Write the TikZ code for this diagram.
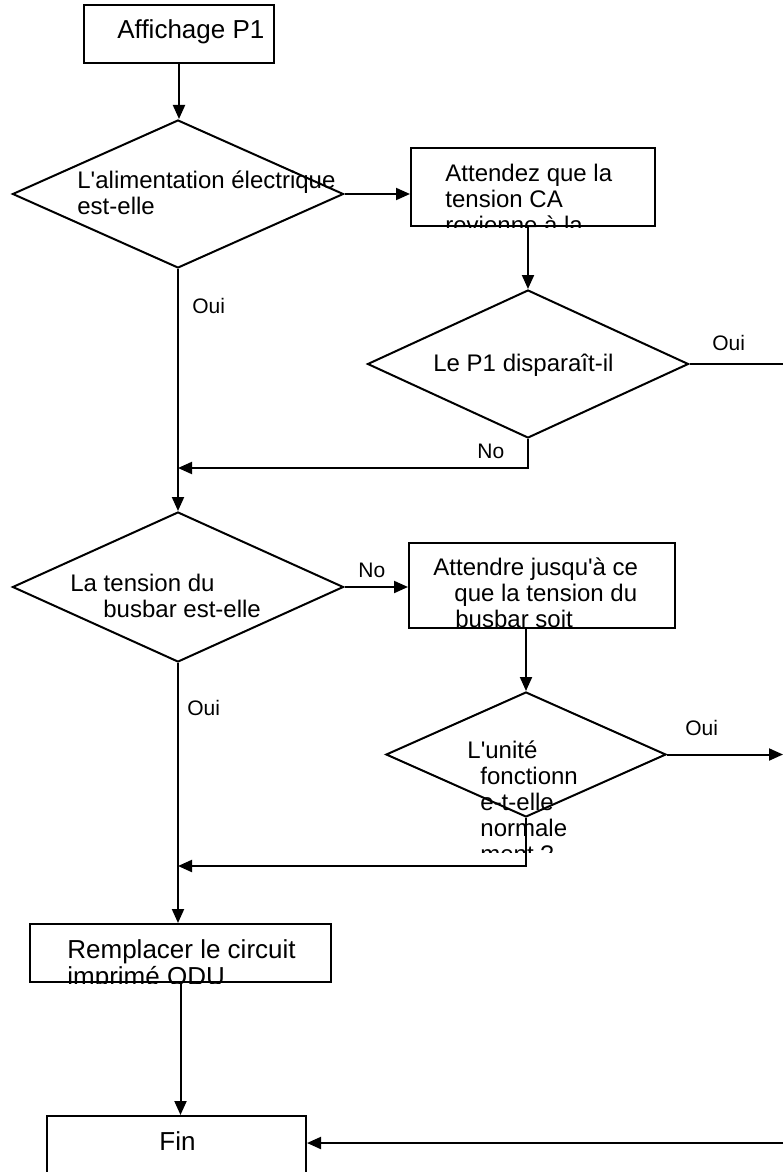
\documentclass[tikz,border=0pt]{standalone}
\usepackage{fontspec}
\setmainfont{Liberation Sans}[Ligatures=TeXOff]
\usetikzlibrary{arrows.meta,positioning,shapes.geometric}
\tikzset{
  stepbox/.style={draw,line width=1pt,inner sep=0pt},
  test/.style={diamond,draw,line width=1pt,inner sep=0pt},
  txt/.style={anchor=north west,inner sep=0pt,align=left,
    font=\fontsize{12}{13}\selectfont},
  bigtxt/.style={anchor=base west,inner sep=0pt,align=left,
    font=\fontsize{13}{13.5}\selectfont},
  lbl/.style={anchor=base west,inner sep=0pt,font=\fontsize{10.5}{12}\selectfont},
  arrow/.style={-{Triangle[length=7pt,width=6pt]},line width=1pt},
  link/.style={line width=1pt}
}

\begin{document}
\begin{tikzpicture}[x=0.5pt,y=-0.5pt]
  \useasboundingbox (0,0) rectangle (783,1172);
  % boxes
  \node[stepbox,minimum width=95pt,minimum height=29pt] (start) at (179,34) {};
  \node[stepbox,minimum width=122pt,minimum height=39pt] (wait1) at (533,187) {};
  \node[stepbox,minimum width=133pt,minimum height=42.5pt] (wait2) at (542,585.5) {};
  \node[stepbox,minimum width=150.5pt,minimum height=29pt] (repl) at (180.5,953) {};
  \node[stepbox,minimum width=129.5pt,minimum height=37pt] (fin) at (176.5,1153) {};
  % tests
  \node[test,minimum width=165.5pt,minimum height=74pt] (d1) at (178,194) {};
  \node[test,minimum width=160.5pt,minimum height=74pt] (d2) at (528,364) {};
  \node[test,minimum width=165.5pt,minimum height=75pt] (d3) at (178,587) {};
  \node[test,minimum width=140pt,minimum height=62.5pt] (d4) at (526,754.5) {};

  % texts
  \node[bigtxt] (starttext) at (117,39) {Affichage P1};
  \node[txt] (d1text) at (77,170) {L'alimentation électrique\\est-elle};
  \begin{scope}
    \clip (wait1.south west) rectangle (wait1.north east);
    \node[txt] (wait1text) at (445,164) {Attendez que la\\tension CA\\revienne à la};
  \end{scope}
  \node[anchor=base west,inner sep=0pt,font=\fontsize{12}{13}\selectfont] (d2text) at (433,371) {Le P1 disparaît-il};
  \node[txt] (d3text) at (70,574) {La tension du\\\hspace*{16.5pt}busbar est-elle};
  \node[txt] (wait2text) at (433,557) {Attendre jusqu'à ce\\\hspace*{10.5pt}que la tension du\\\hspace*{11pt}busbar soit};
  \begin{scope}
    \clip (380,725) rectangle (720,852);
    \node[txt] (d4text) at (467,740) {L'unité\\\hspace*{6.5pt}fonctionn\\\hspace*{6.5pt}e-t-elle\\\hspace*{6.5pt}normale\\\hspace*{6.5pt}ment ?};
  \end{scope}
  \begin{scope}
    \clip (repl.south west) rectangle (repl.north east);
    \node[bigtxt,anchor=north west] (repltext) at (67,939) {Remplacer le circuit\\imprimé ODU};
  \end{scope}
  \node[bigtxt] (fintext) at (159,1150) {Fin};

  % connectors
  \coordinate (railA) at (783,364);
  \coordinate (railB) at (783,754.5);
  \coordinate (railC) at (783,1143);
  \coordinate (joinA) at (178,468);
  \coordinate (joinB) at (178,866);
  \draw[arrow] (start.south) -- (start.south |- d1.north);
  \draw[arrow] (d1.east) -- (d1.east -| wait1.west);
  \draw[arrow] (d2.north |- wait1.south) -- (d2.north);
  \draw[link] (d2.east) -- (railA);
  \draw[arrow] (d2.south) |- (joinA);
  \draw[arrow] (d1.south) -- (d3.north);
  \draw[arrow] (d3.east) -- (d3.east -| wait2.west);
  \draw[arrow] (d4.north |- wait2.south) -- (d4.north);
  \draw[arrow] (d4.east) -- (railB);
  \draw[arrow] (d4.south) |- (joinB);
  \draw[arrow] (d3.south) -- (d3.south |- repl.north);
  \draw[arrow] (repl.south) -- (repl.south |- fin.north);
  \draw[arrow] (railC) -- (railC -| fin.east);

  % labels
  \node[lbl] (oui1) at (192,313) {Oui};
  \node[lbl] (oui2) at (712,350) {Oui};
  \node[lbl] (no2) at (477,458) {No};
  \node[lbl] (no3) at (358,577) {No};
  \node[lbl] (oui3) at (187,715) {Oui};
  \node[lbl] (oui4) at (685,735) {Oui};
\end{tikzpicture}
\end{document}
